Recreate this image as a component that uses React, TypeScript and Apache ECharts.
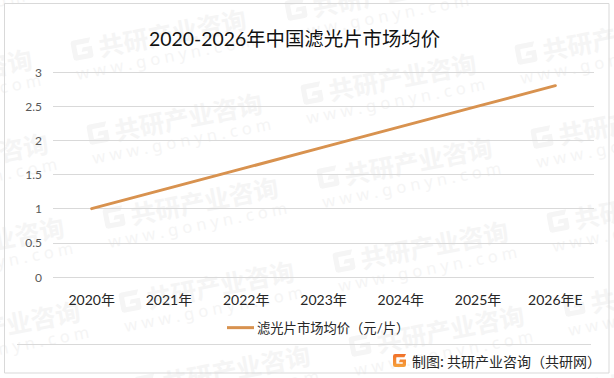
import React, { useEffect, useRef } from "react";
import * as echarts from "echarts";

const titleText = "2020-2026年中国滤光片市场均价";
const categories = ["2020年", "2021年", "2022年", "2023年", "2024年", "2025年", "2026年E"];
const seriesName = "滤光片市场均价（元/片）";
const prices = [1, 1.3, 1.6, 1.9, 2.2, 2.5, 2.8];
const footerText = "制图: 共研产业咨询（共研网）";
const watermarkName = "共研产业咨询";
const watermarkUrl = "w w w . g o n y n . c o m";

const FONT = "Lato, 'Noto Sans CJK SC', sans-serif";

// rounded square with a G-shaped cut, in a 24x24 box
const G_PATH =
  "M4 0H24L21 6H7Q6 6 6 7V17Q6 18 7 18H17Q18 18 18 17V15H11L13 10H24V20Q24 24 20 24H4Q0 24 0 20V4Q0 0 4 0Z";
echarts.graphic.registerShape("gonynLogo", echarts.graphic.extendPath(G_PATH, {}) as any);

const WM_COLOR = "#f5f5f5";

function watermarks(): any[] {
  const out: any[] = [];
  for (let col = -1; col <= 2; col++) {
    for (let row = -1; row <= 4; row++) {
      const x = 72 + 230 * col + 16 * row;
      const y = 51 + 44 * col + 84 * row;
      // skip copies that fall wholly outside the picture
      if (x + 190 < 0 || x > 614 || y + 40 < 0 || y - 45 > 378) continue;
      out.push({
        type: "group",
        x,
        y,
        rotation: 0.19,
        silent: true,
        z: -1,
        children: [
          { type: "gonynLogo", x: 0, y: -10, scaleX: 0.85, scaleY: 0.85, z: -1, style: { fill: WM_COLOR } },
          {
            type: "text",
            x: 27,
            y: 0,
            z: -1,
            style: {
              text: watermarkName,
              fill: WM_COLOR,
              font: "bold 25px 'Noto Sans CJK SC'",
              verticalAlign: "middle",
            },
          },
          {
            type: "text",
            x: 0,
            y: 23,
            z: -1,
            style: {
              text: watermarkUrl,
              fill: WM_COLOR,
              font: "16.5px 'Noto Sans', sans-serif",
              verticalAlign: "middle",
            },
          },
        ],
      });
    }
  }
  return out;
}

export default function App() {
  const ref = useRef<HTMLDivElement>(null);
  useEffect(() => {
    const chart = echarts.init(ref.current!, undefined, { renderer: "svg" });
    chart.setOption({
      animation: false,
      backgroundColor: "#ffffff",
      title: {
        text: titleText,
        left: 144,
        top: 23.5,
        textStyle: { fontFamily: FONT, fontSize: 19.4, fontWeight: "normal", color: "#111111" },
      },
      legend: {
        left: 222,
        top: 316,
        itemWidth: 27,
        itemHeight: 14,
        itemGap: 0,
        textStyle: { fontFamily: FONT, fontSize: 13.3, color: "#262626", padding: [0, 0, 0, -2] },
        data: [{ name: seriesName, icon: "path://M0 0H27V3H0Z" }],
      },
      grid: { left: 53, right: 20, top: 72, bottom: 101 },
      xAxis: {
        type: "category",
        data: categories,
        axisLine: { show: false },
        axisTick: { show: false },
        axisLabel: { fontFamily: FONT, fontSize: 14, color: "#262626", margin: 15 },
      },
      yAxis: {
        type: "value",
        min: 0,
        max: 3,
        interval: 0.5,
        axisLine: { show: false },
        axisTick: { show: false },
        axisLabel: { fontFamily: FONT, fontSize: 12, color: "#595959", margin: 11 },
        splitLine: { lineStyle: { color: "#d9d9d9", width: 1 } },
      },
      series: [
        {
          name: seriesName,
          type: "line",
          data: prices,
          symbol: "none",
          lineStyle: { color: "#d8924f", width: 3, cap: "round" },
          itemStyle: { color: "#d8924f" },
        },
      ],
      graphic: [
        ...watermarks(),
        {
          type: "rect",
          silent: true,
          shape: { x: 4.5, y: 3.5, width: 604.5, height: 369.5 },
          style: { fill: "none", stroke: "#d9d9d9", lineWidth: 1 },
        },
        {
          type: "line",
          silent: true,
          shape: { x1: 17, y1: 344.5, x2: 591, y2: 344.5 },
          style: { stroke: "#d9d9d9", lineWidth: 1 },
        },
        {
          type: "gonynLogo",
          x: 393,
          y: 354,
          scaleX: 13 / 24,
          scaleY: 13 / 24,
          silent: true,
          style: {
            fill: new echarts.graphic.LinearGradient(0, 0, 0, 1, [
              { offset: 0, color: "#f0702a" },
              { offset: 1, color: "#f6a13a" },
            ]),
          },
        },
        {
          type: "text",
          x: 412,
          y: 361,
          style: {
            text: footerText,
            fill: "#262626",
            font: "14px 'Noto Sans CJK SC'",
            verticalAlign: "middle",
          },
        },
      ],
    });
    return () => chart.dispose();
  }, []);
  return <div ref={ref} style={{ position: "absolute", left: 0, top: 0, width: 614, height: 378 }} />;
}
